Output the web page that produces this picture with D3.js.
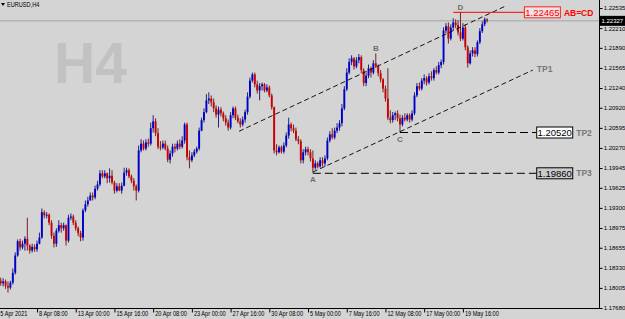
<!DOCTYPE html>
<html>
<head>
<meta charset="utf-8">
<script src="https://cdn.jsdelivr.net/npm/d3@7"></script>
<style>
  body { margin: 0; padding: 0; background: #d4d4d4; }
  svg { display: block; }
  .axis text, .small { font-family: "Liberation Sans", Arial, sans-serif; font-size: 7px; fill: #000; }
  .axis.price text, .small.price { font-size: 6px; }
</style>
</head>
<body>
<svg id="chart" width="625" height="319"></svg>
<script>
// EURUSD H4, bars 1..202 (5 Apr 20:00 .. 20 May), open = previous close
var firstOpen = 1.1812;
var closes = [
 1.1808,1.1811,1.1804,1.1801,1.1809,1.1825,1.1853,1.1876,1.1866,1.1872,
 1.1880,1.1869,1.1861,1.1867,1.1863,1.1872,1.1882,1.1923,1.1918,1.1919,
 1.1906,1.1885,1.1872,1.1893,1.1902,1.1897,1.1902,1.1877,1.1914,1.1916,
 1.1906,1.1897,1.1889,1.1882,1.1926,1.1936,1.1942,1.1950,1.1947,1.1961,
 1.1968,1.1986,1.1981,1.1986,1.1978,1.1982,1.1971,1.1958,1.1965,1.1958,
 1.1966,1.1987,1.1991,1.1981,1.1974,1.1965,1.1958,1.2023,1.2034,1.2026,
 1.2036,1.2034,1.2059,1.2070,1.2051,1.2029,1.2028,1.2034,1.2026,1.2008,
 1.2018,1.2029,1.2026,1.2034,1.2029,1.2039,1.2065,1.2012,1.2007,1.2015,
 1.2021,1.2026,1.2055,1.2072,1.2085,1.2104,1.2107,1.2101,1.2091,1.2081,
 1.2089,1.2083,1.2075,1.2068,1.2060,1.2080,1.2091,1.2076,1.2070,1.2065,
 1.2073,1.2085,1.2110,1.2136,1.2146,1.2130,1.2120,1.2127,1.2130,1.2120,
 1.2125,1.2112,1.2093,1.2023,1.2020,1.2028,1.2021,1.2031,1.2047,1.2065,
 1.2059,1.2055,1.2041,1.2038,1.2007,1.2020,1.2025,1.2020,1.2010,1.1995,
 1.2002,1.1997,1.2007,1.2002,1.2010,1.2039,1.2049,1.2044,1.2055,1.2060,
 1.2067,1.2091,1.2122,1.2149,1.2166,1.2172,1.2159,1.2169,1.2174,1.2153,
 1.2132,1.2144,1.2156,1.2149,1.2164,1.2159,1.2148,1.2138,1.2123,1.2107,
 1.2076,1.2072,1.2080,1.2083,1.2075,1.2065,1.2076,1.2073,1.2080,1.2073,
 1.2083,1.2112,1.2127,1.2123,1.2136,1.2140,1.2133,1.2143,1.2140,1.2153,
 1.2149,1.2161,1.2166,1.2217,1.2224,1.2204,1.2222,1.2230,1.2226,1.2214,
 1.2204,1.2222,1.2190,1.2164,1.2180,1.2185,1.2179,1.2198,1.2216,1.2227,
 1.2235,1.2233
];
var highs = [
 1.1817,1.1816,1.1814,1.1811,1.1812,1.1832,1.1858,1.1879,1.1880,1.1877,
 1.1884,1.1914,1.1871,1.1872,1.1871,1.1877,1.1890,1.1929,1.1926,1.1923,
 1.1921,1.1910,1.1890,1.1897,1.1910,1.1906,1.1906,1.1903,1.1919,1.1921,
 1.1919,1.1910,1.1900,1.1893,1.1929,1.1942,1.1948,1.1955,1.1955,1.1966,
 1.1974,1.1991,1.1991,1.1991,1.1987,1.1994,1.1991,1.1974,1.1970,1.1970,
 1.1971,1.1995,1.1995,1.1994,1.1984,1.1978,1.1968,1.2031,1.2041,1.2039,
 1.2041,1.2042,1.2068,1.2080,1.2075,1.2059,1.2038,1.2039,1.2039,1.2031,
 1.2023,1.2034,1.2034,1.2039,1.2041,1.2046,1.2068,1.2068,1.2023,1.2020,
 1.2025,1.2029,1.2060,1.2076,1.2091,1.2114,1.2117,1.2112,1.2107,1.2096,
 1.2094,1.2093,1.2086,1.2080,1.2073,1.2085,1.2094,1.2094,1.2081,1.2075,
 1.2078,1.2089,1.2117,1.2141,1.2149,1.2149,1.2136,1.2132,1.2133,1.2132,
 1.2130,1.2128,1.2115,1.2094,1.2033,1.2031,1.2031,1.2036,1.2052,1.2076,
 1.2068,1.2065,1.2060,1.2046,1.2041,1.2025,1.2029,1.2029,1.2025,1.2023,
 1.2007,1.2005,1.2012,1.2012,1.2015,1.2044,1.2054,1.2059,1.2060,1.2067,
 1.2072,1.2098,1.2127,1.2156,1.2172,1.2177,1.2174,1.2174,1.2179,1.2177,
 1.2156,1.2149,1.2162,1.2159,1.2169,1.2180,1.2162,1.2153,1.2140,1.2128,
 1.2156,1.2088,1.2085,1.2086,1.2088,1.2081,1.2080,1.2083,1.2083,1.2083,
 1.2088,1.2117,1.2132,1.2133,1.2140,1.2146,1.2143,1.2148,1.2151,1.2156,
 1.2159,1.2166,1.2170,1.2222,1.2229,1.2230,1.2227,1.2237,1.2235,1.2234,
 1.2247,1.2229,1.2227,1.2193,1.2185,1.2190,1.2190,1.2201,1.2221,1.2232,
 1.2238,1.2237
];
var lows = [
 1.1804,1.1803,1.1799,1.1793,1.1798,1.1806,1.1822,1.1851,1.1861,1.1863,
 1.1861,1.1861,1.1856,1.1858,1.1859,1.1859,1.1871,1.1880,1.1913,1.1913,
 1.1902,1.1880,1.1866,1.1867,1.1890,1.1890,1.1893,1.1869,1.1874,1.1910,
 1.1902,1.1893,1.1884,1.1876,1.1877,1.1923,1.1932,1.1942,1.1942,1.1944,
 1.1958,1.1965,1.1978,1.1978,1.1970,1.1971,1.1968,1.1953,1.1955,1.1957,
 1.1953,1.1965,1.1982,1.1978,1.1970,1.1958,1.1942,1.1955,1.2020,1.2023,
 1.2023,1.2029,1.2031,1.2052,1.2046,1.2025,1.2023,1.2025,1.2023,1.2004,
 1.2002,1.2013,1.2020,1.2023,1.2025,1.2026,1.2034,1.2007,1.1994,1.2004,
 1.2012,1.2018,1.2023,1.2054,1.2068,1.2083,1.2098,1.2094,1.2085,1.2076,
 1.2060,1.2078,1.2070,1.2063,1.2055,1.2057,1.2075,1.2072,1.2067,1.2060,
 1.2062,1.2068,1.2081,1.2107,1.2133,1.2125,1.2115,1.2104,1.2120,1.2117,
 1.2117,1.2109,1.2089,1.2018,1.2015,1.2018,1.2018,1.2018,1.2028,1.2042,
 1.2054,1.2051,1.2038,1.2033,1.2002,1.2002,1.2015,1.2015,1.2005,1.1987,
 1.1992,1.1994,1.1995,1.1997,1.1997,1.2007,1.2036,1.2041,1.2041,1.2051,
 1.2055,1.2062,1.2088,1.2119,1.2146,1.2161,1.2154,1.2156,1.2164,1.2148,
 1.2127,1.2127,1.2140,1.2141,1.2146,1.2156,1.2143,1.2133,1.2117,1.2102,
 1.2072,1.2067,1.2068,1.2072,1.2070,1.2052,1.2062,1.2070,1.2070,1.2068,
 1.2070,1.2080,1.2109,1.2120,1.2120,1.2130,1.2128,1.2130,1.2136,1.2136,
 1.2146,1.2146,1.2156,1.2162,1.2213,1.2196,1.2201,1.2217,1.2221,1.2209,
 1.2200,1.2201,1.2185,1.2157,1.2162,1.2175,1.2174,1.2175,1.2195,1.2213,
 1.2224,1.2230
];
var bid = 1.22327;

// axis labels
var priceTicks = [1.22535,1.22210,1.21890,1.21565,1.21240,1.20920,1.20595,1.20270,
                  1.19945,1.19625,1.19300,1.18975,1.18655,1.18330,1.18005,1.17680];
var timeTickBars = [0,16,32,48,64,80,96,112,128,144,160,176,192];
var timeLabels = ["5 Apr 2021","8 Apr 08:00","13 Apr 00:00","15 Apr 16:00","20 Apr 08:00",
                  "23 Apr 00:00","27 Apr 16:00","30 Apr 08:00","5 May 00:00","7 May 16:00",
                  "12 May 08:00","17 May 00:00","19 May 16:00"];

// drawn objects: [bar, price]
var upperChannel = [[99.5, 1.2054], [209.8, 1.2257]];
var lowerChannel = [[130, 1.1988], [220.9, 1.2153]];
var levels = [
  {name: "TP2", price: 1.20520, from: 166, to: 222.3, fill: "#ffffff"},
  {name: "TP3", price: 1.19860, from: 130, to: 222.3, fill: "#cbcbcb"}
];
var abcdTarget = {price: 1.22465, from: 188, to: 217.2};
var points = [
  {name: "A", bar: 130, price: 1.1987, below: true},
  {name: "B", bar: 156, price: 1.2180, below: false},
  {name: "C", bar: 166, price: 1.2052, below: true},
  {name: "D", bar: 191, price: 1.2247, below: false}
];

var svg = d3.select("#chart");
var plotR = 599, plotB = 308;
var fmt = d3.format(".5f");

// squeeze text to a narrow look (terminal font is condensed)
function narrow(sel) {
  sel.each(function() {
    var w = this.getComputedTextLength();
    d3.select(this).attr("textLength", w * 0.8).attr("lengthAdjust", "spacingAndGlyphs");
  });
}

var x = d3.scaleLinear().domain([0, 202]).range([-1.7, 487.1]);
var y = d3.scaleLinear().domain([1.17680, 1.22535]).range([308, 8]);

svg.append("rect").attr("width", 625).attr("height", 319).attr("fill", "#d4d4d4");

svg.append("defs").append("clipPath").attr("id", "plot")
  .append("rect").attr("x", 0).attr("y", 0).attr("width", plotR).attr("height", plotB);

// watermark + title
svg.append("text").attr("x", 54).attr("y", 82.5)
  .style("font-family", "'Liberation Sans', Arial, sans-serif")
  .style("font-weight", "bold").style("font-size", "57px")
  .attr("fill", "#c2c2c2").text("H4");

svg.append("path").attr("d", "M1,3 L5,3 L3,6 Z").attr("fill", "#000");
svg.append("text").attr("class", "small").attr("x", 7).attr("y", 7).text("EURUSD,H4").call(narrow);

var plot = svg.append("g").attr("clip-path", "url(#plot)");

// bid line
plot.append("line").attr("x1", 0).attr("x2", plotR)
  .attr("y1", y(bid)).attr("y2", y(bid))
  .attr("stroke", "#a4a4a4").attr("stroke-width", 1);

// candles
var bars = closes.map(function(c, k) {
  return {i: k + 1, o: k === 0 ? firstOpen : closes[k - 1], h: highs[k], l: lows[k], c: c};
});

var candle = plot.selectAll("g.candle").data(bars).enter().append("g").attr("class", "candle");
candle.append("line")
  .attr("x1", function(d){ return x(d.i); }).attr("x2", function(d){ return x(d.i); })
  .attr("y1", function(d){ return y(d.h); }).attr("y2", function(d){ return y(d.l); })
  .attr("stroke", function(d){ return d.c >= d.o ? "#10106a" : "#6a1010"; })
  .attr("stroke-width", 0.9);
candle.append("rect")
  .attr("x", function(d){ return x(d.i) - 0.95; })
  .attr("width", 1.9)
  .attr("y", function(d){ return y(Math.max(d.o, d.c)); })
  .attr("height", function(d){ return Math.max(1, Math.abs(y(d.o) - y(d.c))); })
  .attr("fill", function(d){ return d.c >= d.o ? "#0000cc" : "#cc0000"; });

// channel lines
var line = d3.line().x(function(d){ return x(d[0]); }).y(function(d){ return y(d[1]); });
[upperChannel, lowerChannel].forEach(function(c) {
  plot.append("path").attr("d", line(c)).attr("fill", "none")
    .attr("stroke", "#000").attr("stroke-width", 0.9).attr("stroke-dasharray", "5,3");
});

// TP levels
levels.forEach(function(lv) {
  var yy = y(lv.price);
  svg.append("line").attr("x1", x(lv.from)).attr("x2", x(lv.to))
    .attr("y1", yy).attr("y2", yy)
    .attr("stroke", "#000").attr("stroke-width", 1).attr("stroke-dasharray", "8,4");
  svg.append("rect").attr("x", x(lv.to) + 0.5).attr("y", yy - 5.5)
    .attr("width", 36).attr("height", 11)
    .attr("fill", lv.fill).attr("stroke", "#000").attr("stroke-width", 1);
  svg.append("text").attr("x", x(lv.to) + 18.5).attr("y", yy + 3.3)
    .attr("text-anchor", "middle")
    .style("font-family", "'Liberation Sans', Arial, sans-serif").style("font-size", "9.5px")
    .attr("fill", "#000").text(fmt(lv.price));
  svg.append("text").attr("x", x(lv.to) + 40).attr("y", yy + 3.2)
    .style("font-family", "'Liberation Sans', Arial, sans-serif")
    .style("font-weight", "bold").style("font-size", "8.5px")
    .attr("fill", "#777").text(lv.name);
});

// TP1 at end of lower channel
svg.append("text").attr("x", x(lowerChannel[1][0]) + 4).attr("y", y(lowerChannel[1][1]) + 2)
  .style("font-family", "'Liberation Sans', Arial, sans-serif")
  .style("font-weight", "bold").style("font-size", "8.5px")
  .attr("fill", "#777").text("TP1");

// AB=CD target
var ty = y(abcdTarget.price);
svg.append("line").attr("x1", x(abcdTarget.from)).attr("x2", x(abcdTarget.to))
  .attr("y1", ty).attr("y2", ty).attr("stroke", "#ff0000").attr("stroke-width", 1);
svg.append("rect").attr("x", x(abcdTarget.to) + 0.5).attr("y", ty - 5.5)
  .attr("width", 36).attr("height", 11)
  .attr("fill", "#ebe3e3").attr("stroke", "#ff2020").attr("stroke-width", 1);
svg.append("text").attr("x", x(abcdTarget.to) + 18.5).attr("y", ty + 3.3)
  .attr("text-anchor", "middle")
  .style("font-family", "'Liberation Sans', Arial, sans-serif").style("font-size", "9.5px")
  .attr("fill", "#ff0000").text(fmt(abcdTarget.price));
svg.append("text").attr("x", x(abcdTarget.to) + 40).attr("y", ty + 3.2)
  .style("font-family", "'Liberation Sans', Arial, sans-serif")
  .style("font-weight", "bold").style("font-size", "8.5px")
  .attr("fill", "#ff0000").text("AB=CD");

// pattern points
svg.selectAll("text.pt").data(points).enter().append("text").attr("class", "pt")
  .attr("x", function(d){ return x(d.bar); })
  .attr("y", function(d){ return d.below ? y(d.price) + 9 : y(d.price) - 2.5; })
  .attr("text-anchor", "middle")
  .style("font-family", "'Liberation Sans', Arial, sans-serif")
  .style("font-weight", "bold").style("font-size", "8px")
  .attr("fill", "#6e6e6e").text(function(d){ return d.name; });

// axes frame
svg.append("line").attr("x1", plotR + 0.5).attr("x2", plotR + 0.5).attr("y1", 0).attr("y2", plotB + 1)
  .attr("stroke", "#000");
svg.append("line").attr("x1", 0).attr("x2", plotR + 1).attr("y1", plotB + 0.5).attr("y2", plotB + 0.5)
  .attr("stroke", "#000");

var yAxis = d3.axisRight(y).tickValues(priceTicks).tickFormat(fmt).tickSize(3).tickPadding(1.2).tickSizeOuter(0);
var gy = svg.append("g").attr("class", "axis price").attr("transform", "translate(" + (plotR + 0.5) + ",0)").call(yAxis);
gy.select(".domain").remove();
gy.attr("font-family", null).attr("font-size", null);

var xAxis = d3.axisBottom(x).tickValues(timeTickBars)
  .tickFormat(function(d, k){ return timeLabels[k]; }).tickSize(4).tickPadding(0).tickSizeOuter(0);
var gx = svg.append("g").attr("class", "axis").attr("transform", "translate(0," + (plotB + 0.5) + ")").call(xAxis);
gx.select(".domain").remove();
gx.attr("font-family", null).attr("font-size", null);
gx.selectAll("text").attr("text-anchor", "start").attr("x", 1.5).attr("y", 3).attr("dy", "0.71em").call(narrow);

// current price label
svg.append("rect").attr("x", plotR + 1).attr("y", y(bid) - 5).attr("width", 25).attr("height", 10).attr("fill", "#000");
svg.append("text").attr("class", "small price").attr("x", plotR + 2.5).attr("y", y(bid) + 2.2)
  .style("fill", "#fff").text(fmt(bid));
</script>
</body>
</html>
